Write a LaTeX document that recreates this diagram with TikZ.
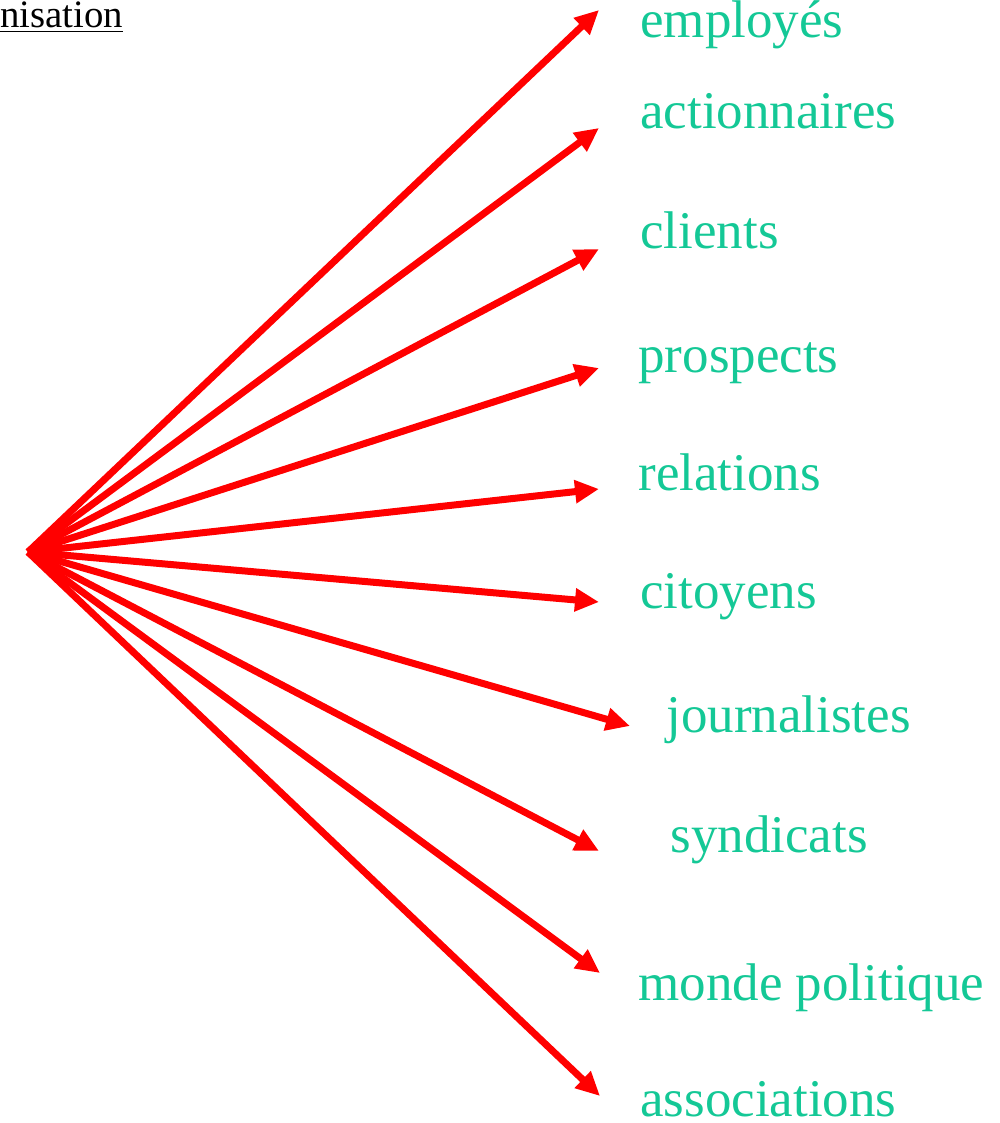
\documentclass[tikz,border=0pt]{standalone}
\usepackage{fontspec}
\setmainfont{Liberation Serif}
\usepackage{xcolor}
\usetikzlibrary{arrows.meta}

\definecolor{labelgreen}{RGB}{20,200,150}

\begin{document}
\begin{tikzpicture}[
    x=0.5pt, y=-0.5pt,
    label/.style={
        anchor=base west,
        inner sep=0pt,
        text=labelgreen,
        font=\fontsize{26.5}{30}\selectfont
    },
    title/.style={
        anchor=base west,
        inner sep=0pt,
        font=\fontsize{19.4}{23}\selectfont
    },
    arrow/.style={
        -{Triangle[length=12pt,width=11pt]},
        red,
        line width=3.5pt
    }
]
\useasboundingbox (0,0) rectangle (1000,1123);

% Title (cut off at the left)
\node[title] (titre) at (0, 28) {\underline{nisation}};

% Source point
\coordinate (src) at (28, 552);

% Labels with fixed coordinates
\node[label] (employes)  at (640, 38)   {employés};
\node[label] (action)    at (640, 129)  {actionnaires};
\node[label] (clients)   at (640, 249)  {clients};
\node[label] (prospects) at (638, 372)  {prospects};
\node[label] (relations) at (638, 490)  {relations};
\node[label] (citoyens)  at (640, 608)  {citoyens};
\node[label] (journal)   at (666, 732)  {journalistes};
\node[label] (syndicats) at (670, 852)  {syndicats};
\node[label] (politique) at (638, 1000) {monde politique};
\node[label] (assoc)     at (640, 1116) {associations};

% Arrow tips
\coordinate (t-employes)  at (599, 10);
\coordinate (t-action)    at (599, 128);
\coordinate (t-clients)   at (599, 249);
\coordinate (t-prospects) at (599, 368);
\coordinate (t-relations) at (599, 489);
\coordinate (t-citoyens)  at (599, 602);
\coordinate (t-journal)   at (630, 726);
\coordinate (t-syndicats) at (599, 851);
\coordinate (t-politique) at (600, 973);
\coordinate (t-assoc)     at (600, 1096);

% Arrows
\foreach \t in {employes,action,clients,prospects,relations,citoyens,journal,syndicats,politique,assoc}
    \draw[arrow] (src) -- (t-\t);

\end{tikzpicture}
\end{document}
